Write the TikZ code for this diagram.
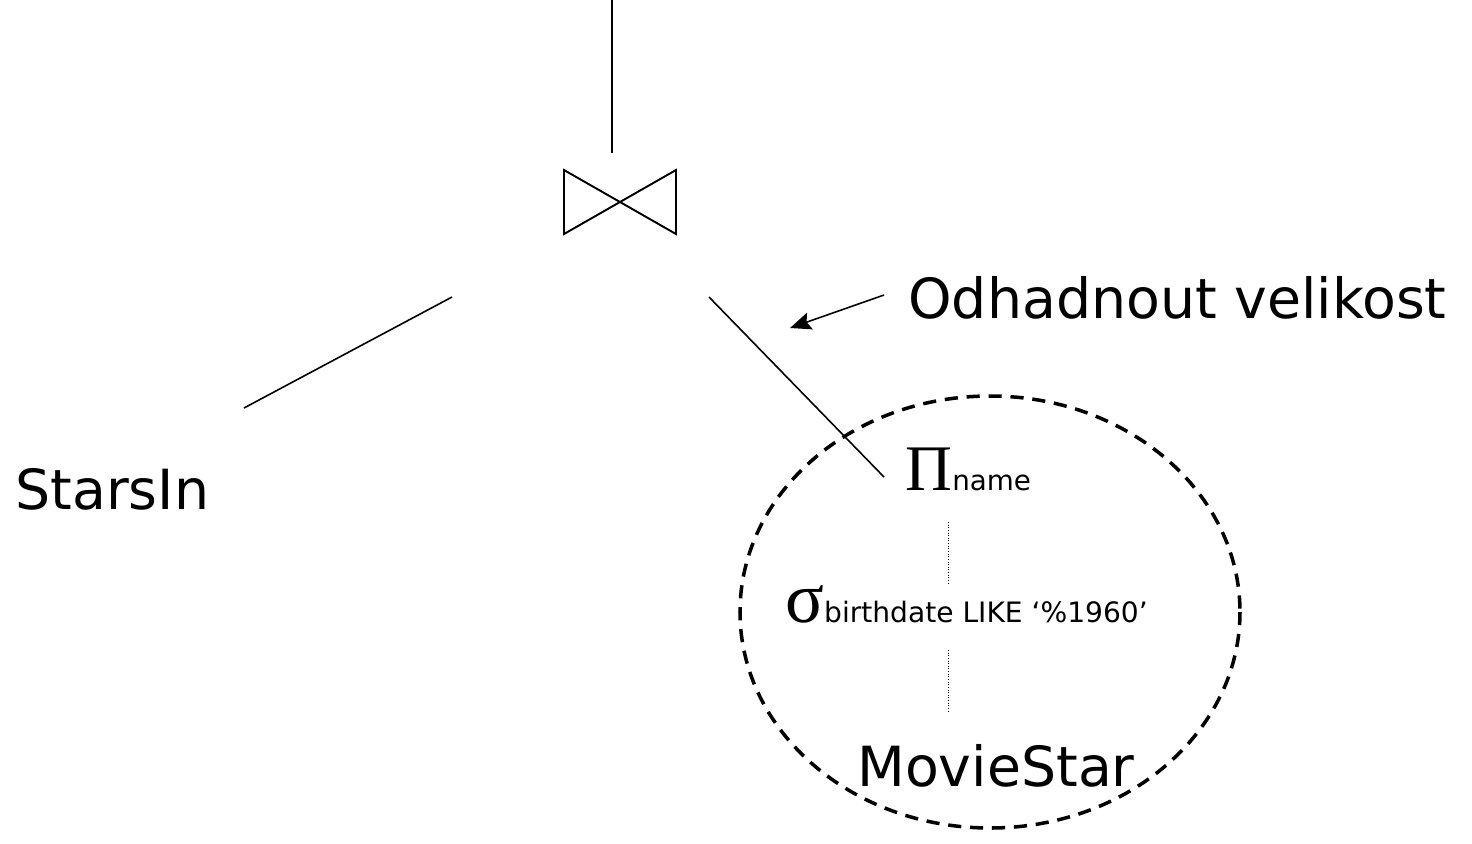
\documentclass[tikz,border=0pt]{standalone}
\usepackage{fontspec}
\setmainfont{DejaVu Sans}
\newfontfamily\greekfont{Liberation Serif}
\usetikzlibrary{arrows.meta}

\begin{document}
\begin{tikzpicture}[x=0.02cm,y=-0.02cm,
    bigtext/.style={inner sep=0pt,anchor=base west,font=\fontsize{31.5}{36}\selectfont},
    optext/.style={inner sep=0pt,anchor=base west},
    treeline/.style={line width=0.9pt},
    dotline/.style={line width=0.5pt,dash pattern=on 0.5pt off 1pt}]
        \useasboundingbox (0,0) rectangle (1472,843);

        % Draw the join and the line above it
        \coordinate (join) at (620,202);
        \coordinate (top) at (612,0);
        \coordinate (joinT) at (612,153);
        \draw[treeline] (top) -- (joinT);  % result
        \draw[line width=1.1pt] ([shift={(-56,-32)}]join) -- ([shift={(56,32)}]join) -- ([shift={(56,-32)}]join) -- ([shift={(-56,32)}]join) -- cycle;  % bowtie

        % Draw the two branches
        \coordinate (joinL) at (452,297);
        \coordinate (starsT) at (244,408);
        \coordinate (joinR) at (709,297);
        \coordinate (projT) at (884,477);
        \draw[treeline] (joinL) -- (starsT);  % left branch
        \draw[treeline] (joinR) -- (projT);  % right branch

        % Draw the leaves
        \node[bigtext] (stars) at (15,509) {StarsIn};
        \node[bigtext] (note) at (908,318) {Odhadnout velikost};
        \node[optext] (proj) at (905,490) {{\greekfont\fontsize{37}{40}\selectfont Π}{\fontsize{15.8}{18}\selectfont name}};
        \node[optext] (sel) at (785,622) {{\greekfont\fontsize{41}{44}\selectfont σ}{\fontsize{16}{18}\selectfont birthdate LIKE ‘\%1960’}};
        \node[bigtext] (movie) at (857,786) {MovieStar};

        % Draw the dotted links inside the ellipse
        \coordinate (projB) at (948,522);
        \coordinate (selT) at (948,583);
        \coordinate (selB) at (948,650);
        \coordinate (movieT) at (948,712);
        \draw[dotline] (projB) -- (selT);
        \draw[dotline] (selB) -- (movieT);

        % Draw the dashed ellipse and the arrow
        \draw[line width=2pt,dash pattern=on 7.5pt off 5pt] (990,612) ellipse (250 and 216);  % subtree
        \coordinate (noteW) at (884,295);
        \coordinate (ellT) at (790,328);
        \draw[treeline,-{Stealth[length=12pt,width=10pt,inset=2pt]}] (noteW) -- (ellT);  % arrow
    \end{tikzpicture}
\end{document}
